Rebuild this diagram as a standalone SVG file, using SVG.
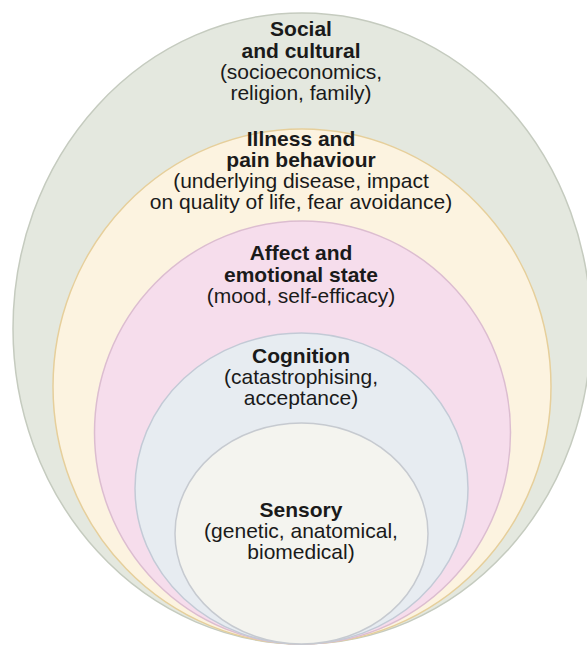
<svg xmlns="http://www.w3.org/2000/svg" width="587" height="647" viewBox="0 0 587 647">
<style>
  .ring { stroke-width: 1.5; }
  text { font-family: "Liberation Sans", Arial, Helvetica, sans-serif; font-size: 21px; fill: #1a1a1a; text-anchor: middle; }
  .b { font-weight: bold; }
</style>
<rect width="587" height="647" fill="#ffffff"/>
<g id="social">
  <ellipse class="ring" cx="302" cy="328.5" rx="289" ry="315.5" fill="#e4e8df" stroke="#c5cbbf"/>
  <text x="301" y="36" class="b">Social</text>
  <text x="301" y="57.5" class="b">and cultural</text>
  <text x="301" y="78.5">(socioeconomics,</text>
  <text x="301" y="99.5">religion, family)</text>
</g>
<g id="illness">
  <ellipse class="ring" cx="302" cy="386.5" rx="249" ry="257.5" fill="#fcf3e0" stroke="#e6cf9b"/>
  <text x="301" y="146" class="b">Illness and</text>
  <text x="301" y="167" class="b">pain behaviour</text>
  <text x="301" y="188">(underlying disease, impact</text>
  <text x="301" y="209">on quality of life, fear avoidance)</text>
</g>
<g id="affect">
  <ellipse class="ring" cx="302.5" cy="432.5" rx="208" ry="211.5" fill="#f6ddec" stroke="#dcbdd0"/>
  <text x="301" y="260" class="b">Affect and</text>
  <text x="301" y="281.5" class="b">emotional state</text>
  <text x="301" y="302.5">(mood, self-efficacy)</text>
</g>
<g id="cognition">
  <ellipse class="ring" cx="301.5" cy="488.5" rx="166.5" ry="155.5" fill="#e7ecf1" stroke="#c3cad6"/>
  <text x="301" y="363" class="b">Cognition</text>
  <text x="301" y="384">(catastrophising,</text>
  <text x="301" y="405">acceptance)</text>
</g>
<g id="sensory">
  <ellipse class="ring" cx="301.5" cy="533.5" rx="126.5" ry="110.5" fill="#f4f4ef" stroke="#c6cad0"/>
  <text x="301" y="517" class="b">Sensory</text>
  <text x="301" y="538">(genetic, anatomical,</text>
  <text x="301" y="559">biomedical)</text>
</g>
<g id="connectors"></g>
</svg>
